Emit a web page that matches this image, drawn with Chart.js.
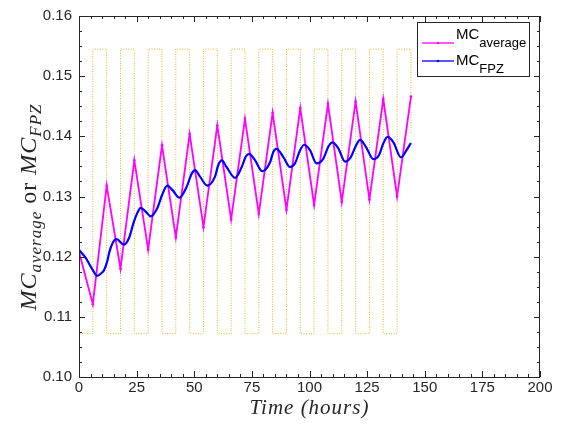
<!DOCTYPE html>
<html>
<head>
<meta charset="utf-8">
<script src="https://cdn.jsdelivr.net/npm/chart.js@4.4.1/dist/chart.umd.min.js"></script>
<style>
  html, body { margin: 0; padding: 0; background: #fff; }
  canvas { display: block; }
</style>
</head>
<body>
<canvas id="mc-chart" width="568" height="426"></canvas>
<script>
'use strict';

/* ── data ─────────────────────────────────────────────── */
const X_TICKS = [0, 25, 50, 75, 100, 125, 150, 175, 200];
const Y_TICKS = [0.10, 0.11, 0.12, 0.13, 0.14, 0.15, 0.16];

// MC_average : sawtooth, one vertex every 6 h
const avgTime = [0, 6, 12, 18, 24, 30, 36, 42, 48, 54, 60, 66, 72,
                 78, 84, 90, 96, 102, 108, 114, 120, 126, 132, 138, 144];
const avgVal  = [0.1208, 0.1121, 0.1318, 0.1180, 0.1360, 0.1212, 0.1385, 0.1232, 0.1404,
                 0.1249, 0.1418, 0.1262, 0.1429, 0.1271, 0.1439, 0.1278, 0.1447,
                 0.1286, 0.1454, 0.1291, 0.1458, 0.1295, 0.1462, 0.1300, 0.1466];

// MC_FPZ : smooth lagging curve
const fpzTime = [0, 2.9, 5.8, 7.9, 10.1, 10.8, 12.3, 13.2, 14.5, 16.3, 19.5, 21.7, 23.9,
                 26.0, 26.8, 28.9, 31.1, 34.0, 36.1, 38.3, 40.5, 43.6, 46.7, 48.9,
                 50.3, 52.5, 55.7, 59.0, 60.4, 61.9, 64.0, 67.7, 70.6, 72.3, 73.8,
                 76.4, 79.5, 82.9, 84.3, 85.7, 88.6, 91.5, 93.7, 95.9, 97.7, 100.2,
                 103.1, 106.0, 108.2, 109.9, 112.5, 115.4, 118.0, 120.2, 121.9, 124.4,
                 127.7, 130.2, 132.0, 133.9, 136.4, 139.7, 142.1, 144.0];
const fpzVal  = [0.1211, 0.1198, 0.1179, 0.1168, 0.1174, 0.1177, 0.1193, 0.1208, 0.1222, 0.1229, 0.1220, 0.1231, 0.1259,
                 0.1278, 0.1281, 0.1275, 0.1267, 0.1281, 0.1303, 0.1318, 0.1311, 0.1298, 0.1316, 0.1338,
                 0.1344, 0.1333, 0.1318, 0.1333, 0.1352, 0.1360, 0.1349, 0.1331, 0.1349, 0.1366, 0.1371,
                 0.1360, 0.1342, 0.1357, 0.1374, 0.1379, 0.1366, 0.1349, 0.1355, 0.1377, 0.1386, 0.1377,
                 0.1355, 0.1363, 0.1383, 0.1390, 0.1380, 0.1358, 0.1366, 0.1385, 0.1394, 0.1383,
                 0.1362, 0.1369, 0.1388, 0.1399, 0.1390, 0.1365, 0.1377, 0.1389];

// dotted square wave (stepped), value holds until the next time
const waveTime = [0, 0, 6, 12, 18, 24, 30, 36, 42, 48, 54, 60, 66, 72,
                  78, 84, 90, 96, 102, 108, 114, 120, 126, 132, 138, 144];
const waveVal  = [0.1225, 0.1072, 0.1545, 0.1072, 0.1545, 0.1072, 0.1545, 0.1072, 0.1545, 0.1072, 0.1545, 0.1072, 0.1545, 0.1072,
                  0.1545, 0.1072, 0.1545, 0.1072, 0.1545, 0.1072, 0.1545, 0.1072, 0.1545, 0.1072, 0.1545, 0.1403];

/* ── colours / fonts ──────────────────────────────────── */
const C_AVG  = '#FF00FF';
const C_FPZ  = '#0000FF';
const C_WAVE = '#EDB120';
const C_AX   = '#262626';
const SANS   = '"Liberation Sans", Arial, sans-serif';
const SERIF  = '"Liberation Serif", "Times New Roman", serif';

const pts = (xs, ys) => xs.map((x, i) => ({ x, y: ys[i] }));

/* ── helpers ──────────────────────────────────────────── */
function drawRuns(ctx, parts, x, y) {
  let cx = x;
  parts.forEach(p => {
    ctx.font = p.font;
    ctx.fillText(p.t, cx, y + (p.dy || 0));
    cx += ctx.measureText(p.t).width;
  });
  return cx - x;
}
function runsWidth(ctx, parts) {
  let w = 0;
  parts.forEach(p => { ctx.font = p.font; w += ctx.measureText(p.t).width; });
  return w;
}

/* ── frame / ticks / labels / legend ─────────────────── */
const framePlugin = {
  id: 'frame',
  afterDraw(chart) {
    const { ctx, chartArea: a, scales: { x, y } } = chart;
    ctx.save();
    ctx.strokeStyle = C_AX;
    ctx.lineWidth = 1;

    // box
    ctx.strokeRect(Math.round(a.left) + 0.5, Math.round(a.top) + 0.5,
                   Math.round(a.right - a.left) - 1, Math.round(a.bottom - a.top));

    // inward ticks on all four sides
    ctx.beginPath();
    for (let i = 0; i <= 40; i++) {
      const px = Math.round(x.getPixelForValue(i * 5)) + 0.5;
      const len = i % 5 === 0 ? 6 : 3;
      ctx.moveTo(px, a.bottom); ctx.lineTo(px, a.bottom - len);
      ctx.moveTo(px, a.top);    ctx.lineTo(px, a.top + len);
    }
    for (let j = 0; j <= 24; j++) {
      const py = Math.round(y.getPixelForValue(0.10 + j * 0.0025)) + 0.5;
      const len = j % 4 === 0 ? 6 : 3;
      ctx.moveTo(a.left, py);  ctx.lineTo(a.left + len, py);
      ctx.moveTo(a.right, py); ctx.lineTo(a.right - len, py);
    }
    ctx.stroke();

    // axis titles
    ctx.fillStyle = C_AX;
    ctx.textBaseline = 'alphabetic';
    ctx.letterSpacing = '1px';
    const xt = [{ t: 'Time (hours)', font: `italic 21px ${SERIF}` }];
    drawRuns(ctx, xt, (a.left + a.right) / 2 - runsWidth(ctx, xt) / 2, 414);

    const yt = [
      { t: 'MC', font: `italic 24px ${SERIF}` },
      { t: 'average', font: `italic 17px ${SERIF}`, dy: 5 },
      { t: ' or ', font: `24px ${SERIF}` },
      { t: 'MC', font: `italic 24px ${SERIF}` },
      { t: 'FPZ', font: `italic 17px ${SERIF}`, dy: 5 },
    ];
    ctx.save();
    ctx.translate(36, 207);
    ctx.rotate(-Math.PI / 2);
    drawRuns(ctx, yt, -runsWidth(ctx, yt) / 2, 0);
    ctx.restore();
    ctx.letterSpacing = '0px';

    // legend
    const L = { x: 417, y: 22, w: 112, h: 54 };
    ctx.fillStyle = '#fff';
    ctx.fillRect(L.x, L.y, L.w, L.h);
    ctx.strokeStyle = C_AX;
    ctx.strokeRect(L.x + 0.5, L.y + 0.5, L.w, L.h);
    const rows = [
      { c: C_AVG, ly: 43, by: 39, sub: 'average' },
      { c: C_FPZ, ly: 61, by: 65, sub: 'FPZ' },
    ];
    rows.forEach(r => {
      ctx.strokeStyle = r.c;
      ctx.lineWidth = 1.3;
      ctx.beginPath();
      ctx.moveTo(422, r.ly); ctx.lineTo(454, r.ly);
      ctx.stroke();
      ctx.fillStyle = r.c;
      ctx.beginPath(); ctx.arc(438, r.ly, 1.2, 0, Math.PI * 2); ctx.fill();
      ctx.fillStyle = '#000';
      drawRuns(ctx, [
        { t: 'MC', font: `15px ${SANS}` },
        { t: r.sub, font: `13px ${SANS}`, dy: 7.5 },
      ], 456, r.by);
    });
    ctx.restore();
  },
};

/* ── chart ────────────────────────────────────────────── */
new Chart(document.getElementById('mc-chart'), {
  type: 'line',
  data: {
    datasets: [
      { label: 'MC_FPZ', data: pts(fpzTime, fpzVal), borderColor: C_FPZ, backgroundColor: C_FPZ,
        borderWidth: 2.2, pointRadius: 0, cubicInterpolationMode: 'monotone', order: 1 },
      { label: 'MC_average', data: pts(avgTime, avgVal), borderColor: C_AVG, backgroundColor: C_AVG,
        borderWidth: 1.8, pointRadius: 1.3, pointBorderWidth: 0, tension: 0, order: 2 },
      { label: 'wave', data: pts(waveTime, waveVal), borderColor: C_WAVE,
        borderWidth: 1, borderDash: [1, 1.5], pointRadius: 0, stepped: true, order: 3 },
    ],
  },
  options: {
    responsive: false,
    animation: false,
    layout: { padding: { top: 13, right: 28, left: 0, bottom: 0 } },
    plugins: { legend: { display: false }, tooltip: { enabled: false } },
    scales: {
      x: {
        type: 'linear', min: 0, max: 200,
        afterBuildTicks: s => { s.ticks = X_TICKS.map(v => ({ value: v })); },
        ticks: { color: C_AX, font: { family: SANS, size: 15 }, padding: 2, maxRotation: 0,
                 callback: v => String(v) },
        grid: { display: false, drawTicks: false },
        border: { display: false },
        afterFit: s => { s.height = 49; },
      },
      y: {
        type: 'linear', min: 0.10, max: 0.16,
        afterBuildTicks: s => { s.ticks = Y_TICKS.map(v => ({ value: v })); },
        ticks: { color: C_AX, font: { family: SANS, size: 15 }, padding: 7,
                 callback: v => Number(v).toFixed(2) },
        grid: { display: false, drawTicks: false },
        border: { display: false },
        afterFit: s => { s.width = 79; },
      },
    },
  },
  plugins: [framePlugin],
});
</script>
</body>
</html>
